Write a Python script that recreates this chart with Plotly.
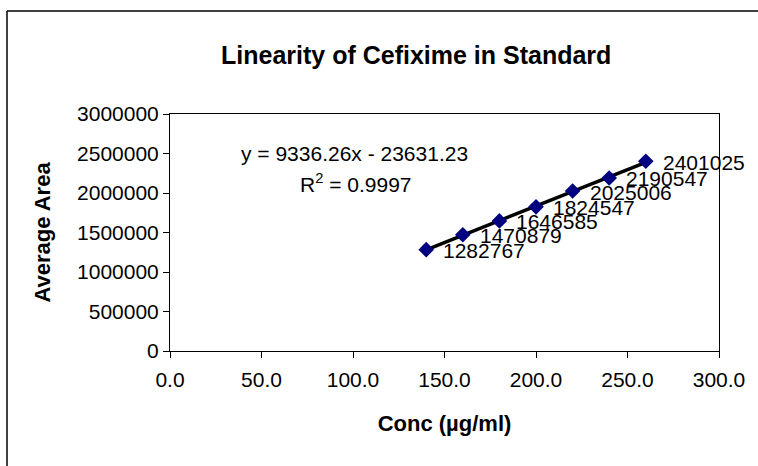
import numpy as np
import plotly.graph_objects as go

# Data
conc = [140, 160, 180, 200, 220, 240, 260]
area = [1282767, 1470879, 1646585, 1824547, 2025006, 2190547, 2401025]
x_ticks = [0, 50, 100, 150, 200, 250, 300]
y_ticks = [0, 500000, 1000000, 1500000, 2000000, 2500000, 3000000]
eq_text = "y = 9336.26x - 23631.23"
r2_text = "R<sup>2</sup> = 0.9997"
title_text = "<b>Linearity of Cefixime in Standard</b>"
x_title = "<b>Conc (µg/ml)</b>"
y_title = "<b>Average Area</b>"

FONT = "Liberation Sans, Arial, sans-serif"

# plot-area geometry in pixels (used only to place paper-anchored texts)
PL, PR, PT, PB = 170, 719, 114, 351
PW, PH = PR - PL, PB - PT

# linear trendline through the data
slope, intercept = np.polyfit(conc, area, 1)
tx = np.array([min(conc), max(conc)])
ty = slope * tx + intercept

fig = go.Figure()
fig.add_trace(go.Scatter(x=tx, y=ty, mode="lines",
                         line=dict(color="black", width=3.5),
                         hoverinfo="skip", showlegend=False))
fig.add_trace(go.Scatter(x=conc, y=area, mode="markers",
                         marker=dict(symbol="diamond", size=12, color="#000080",
                                     line=dict(width=0)),
                         showlegend=False))

annotations = []
for xv, yv in zip(conc, area):
    annotations.append(dict(x=xv, y=yv, xref="x", yref="y", text=str(yv),
                            showarrow=False, xanchor="left", yanchor="middle",
                            xshift=15, yshift=-1,
                            font=dict(family=FONT, size=21, color="black")))
annotations.append(dict(x=(354 - PL) / PW, y=(PB - 153) / PH, xref="paper", yref="paper",
                        text=eq_text, showarrow=False, xanchor="center", yanchor="middle",
                        font=dict(family=FONT, size=21, color="black")))
annotations.append(dict(x=(356 - PL) / PW, y=(PB - 183) / PH, xref="paper", yref="paper",
                        text=r2_text, showarrow=False, xanchor="center", yanchor="middle",
                        font=dict(family=FONT, size=21, color="black")))
annotations.append(dict(x=(416 - PL) / PW, y=(PB - 55) / PH, xref="paper", yref="paper",
                        text=title_text, showarrow=False, xanchor="center", yanchor="middle",
                        font=dict(family=FONT, size=25, color="black")))

border = dict(color="black", width=1.5)
fig.update_layout(
    width=758, height=466,
    margin=dict(l=PL, r=758 - PR, t=PT, b=466 - PB),
    paper_bgcolor="white", plot_bgcolor="white",
    font=dict(family=FONT, size=21, color="black"),
    annotations=annotations,
    shapes=[
        dict(type="line", xref="paper", yref="paper", layer="below", line=border,
             x0=(7 - PL) / PW, x1=(7 - PL) / PW, y0=(PB - 470) / PH, y1=(PB - 11) / PH),
        dict(type="line", xref="paper", yref="paper", layer="below", line=border,
             x0=(7 - PL) / PW, x1=(758 - PL) / PW, y0=(PB - 11) / PH, y1=(PB - 11) / PH),
    ],
)
fig.update_xaxes(range=[0, 300], tickvals=x_ticks,
                 ticktext=[f"{v:.1f}" for v in x_ticks],
                 showgrid=False, zeroline=False, showline=True, linecolor="black",
                 linewidth=1, mirror=True, ticks="outside", ticklen=6, tickcolor="black",
                 ticklabelstandoff=4,
                 tickfont=dict(family=FONT, size=21),
                 title=dict(text=x_title, font=dict(family=FONT, size=22), standoff=25))
fig.update_yaxes(range=[0, 3000000], tickvals=y_ticks,
                 ticktext=[str(v) for v in y_ticks],
                 showgrid=False, zeroline=False, showline=True, linecolor="black",
                 linewidth=1, mirror=True, ticks="outside", ticklen=6, tickcolor="black",
                 tickfont=dict(family=FONT, size=21),
                 title=dict(text=y_title, font=dict(family=FONT, size=22), standoff=20))

fig.write_html("out.html")
